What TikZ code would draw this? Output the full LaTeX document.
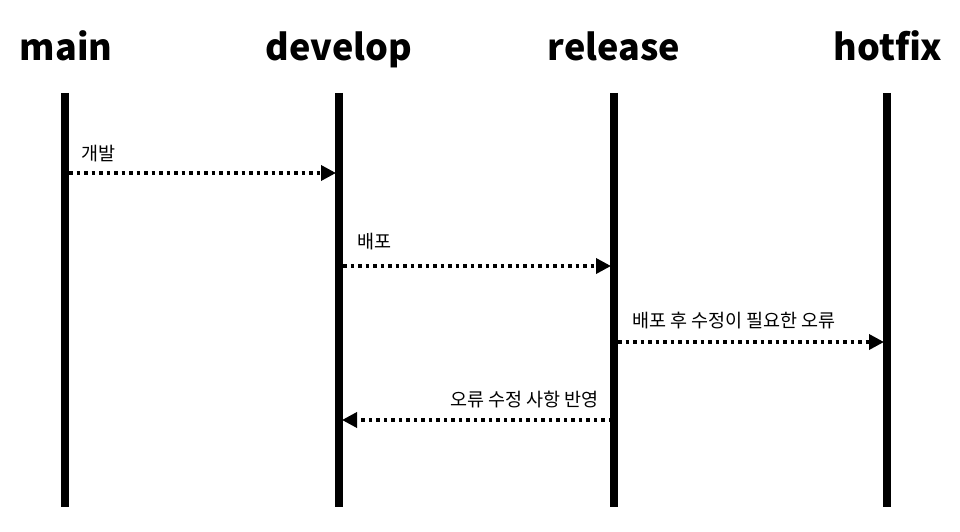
\documentclass[tikz,border=0pt]{standalone}
\usepackage{fontspec}
\setmainfont{Noto Sans CJK KR}
\usetikzlibrary{arrows.meta,positioning}

\begin{document}
\begin{tikzpicture}[x=1pt,y=-1pt]
\tikzstyle{branch}=[font=\fontsize{36}{40}\selectfont\bfseries, anchor=base, inner sep=0pt]
\tikzstyle{life}=[line width=8pt]
\tikzstyle{msg}=[font=\fontsize{18.5}{20}\selectfont, inner sep=0pt]
\tikzstyle{connect}=[-{Triangle[length=15pt,width=15pt]}, line width=3.5pt, dash pattern=on 3.5pt off 4pt]
\useasboundingbox (0,0) rectangle (960,532);
  \node[branch] (main) at (66,61) {main};
  \node[branch] (develop) at (339,61) {develop};
  \node[branch] (release) at (614,61) {release};
  \node[branch] (hotfix) at (888,61) {hotfix};
% lifelines
  \coordinate (mainT) at (65,93);    \coordinate (mainB) at (65,507);
  \coordinate (devT) at (339,93);    \coordinate (devB) at (339,507);
  \coordinate (relT) at (614,93);    \coordinate (relB) at (614,507);
  \coordinate (hotT) at (887,93);    \coordinate (hotB) at (887,507);
  \draw[life] (mainT) -- (mainB);
  \draw[life] (devT) -- (devB);
  \draw[life] (relT) -- (relB);
  \draw[life] (hotT) -- (hotB);
% messages
  \coordinate (m1) at (69,173);  \coordinate (d1) at (336,173);
  \coordinate (d2) at (343,266); \coordinate (r2) at (611,266);
  \coordinate (r3) at (618,342); \coordinate (h3) at (884,342);
  \coordinate (r4) at (612,420); \coordinate (d4) at (342,420);
  \path (m1) edge[connect] (d1)
        (d2) edge[connect] (r2)
        (r3) edge[connect] (h3)
        (r4) edge[connect] (d4)
        ;
  \node[msg, anchor=base west] (dev) at (81,160) {개발};
  \node[msg, anchor=base west] (deploy) at (357,248) {배포};
  \node[msg, anchor=base west] (bug) at (632,327) {배포 후 수정이 필요한 오류};
  \node[msg, anchor=base east] (fix) at (599,406) {오류 수정 사항 반영};
\end{tikzpicture}
\end{document}
